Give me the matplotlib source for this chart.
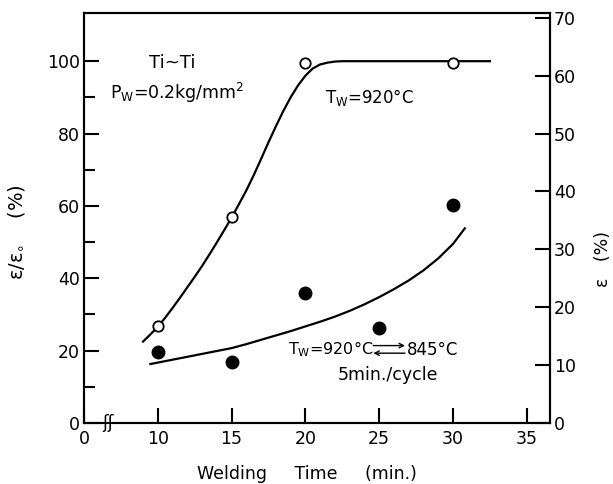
import matplotlib
matplotlib.use("Agg")
import matplotlib.pyplot as plt

plt.rcParams['font.family'] = ['DejaVu Sans']
plt.rcParams['mathtext.fontset'] = 'dejavusans'

# Data (left axis: eps/eps0 in %)
time_open = [10, 15, 20, 30]
ratio_open = [26.8, 57, 99.4, 99.4]

time_filled = [10, 15, 20, 25, 30]
ratio_filled = [19.7, 16.8, 35.8, 26.2, 60.2]

# Hand-drawn fitted curves
curve1_x = [9.0, 9.5, 10.0, 10.5, 11.0, 11.5, 12.0, 12.5, 13.0, 13.5, 14.0, 14.5,
            15.0, 15.5, 16.0, 16.5, 17.0, 17.5, 18.0, 18.5, 19.0, 19.5, 20.0,
            20.5, 21.0, 21.5, 22.0, 22.5, 32.5]
curve1_y = [22.5, 24.5, 26.6, 29.1, 31.8, 34.6, 37.5, 40.4, 43.4, 46.6, 49.9, 53.3,
            56.8, 60.5, 64.3, 68.5, 73.0, 77.6, 82.0, 86.2, 90.0, 93.3, 96.0,
            98.0, 99.1, 99.6, 99.9, 100, 100]

curve2_x = [9.5, 10, 11, 12, 13, 14, 15, 16, 17, 18, 19, 20, 21, 22, 23, 24, 25,
            26, 27, 28, 29, 30, 30.8]
curve2_y = [16.3, 16.7, 17.5, 18.3, 19.1, 19.9, 20.7, 21.8, 23.0, 24.2, 25.4, 26.7,
            28.0, 29.4, 31.0, 32.8, 34.8, 37.0, 39.4, 42.2, 45.5, 49.5, 53.8]

xticks = [5, 10, 15, 20, 25, 30, 35]
xticklabels = ["0", "10", "15", "20", "25", "30", "35"]
yticks_left = [0, 20, 40, 60, 80, 100]
yticks_left_minor = [10, 30, 50, 70, 90]
yticks_right = [0, 10, 20, 30, 40, 50, 60, 70]

fig = plt.figure(figsize=(6.13, 4.84), dpi=100)
ax = fig.add_axes([0.137, 0.126, 0.760, 0.847])

ax.plot(curve1_x, curve1_y, color='black', lw=1.6, zorder=2, solid_joinstyle='round')
ax.plot(curve2_x, curve2_y, color='black', lw=1.6, zorder=2, solid_joinstyle='round')
ax.plot(time_open, ratio_open, 'o', ms=7.5, mfc='white', mec='black', mew=1.3, zorder=3)
ax.plot(time_filled, ratio_filled, 'o', ms=9, mfc='black', mec='black', zorder=3)

ax.set_xlim(5, 36.56)
ax.set_ylim(0, 113.3)
ax.set_xticks(xticks)
ax.set_xticklabels(xticklabels)
ax.set_yticks(yticks_left)
ax.set_yticks(yticks_left_minor, minor=True)

for s in ax.spines.values():
    s.set_linewidth(1.5)

ax.tick_params(axis='both', which='major', direction='in', length=11, width=1.5,
               labelsize=12.5, pad=3)
ax.tick_params(axis='y', which='minor', direction='in', length=8, width=1.5)
ax.tick_params(axis='x', which='major', pad=5)

ax.set_xlabel("Welding     Time     (min.)", fontsize=12.5)
ax.xaxis.set_label_coords(0.479, -0.102)
ax.set_ylabel(r"ε/ε$_{\circ}$    (%)", fontsize=14)
ax.yaxis.set_label_coords(-0.122, 0.466)

ax2 = ax.twinx()
ax2.set_ylim(0, 113.3 / 1.6)
ax2.set_yticks(yticks_right)
ax2.tick_params(axis='y', direction='in', length=11, width=1.5, labelsize=12.5, pad=3)
ax2.set_ylabel("ε   (%)", fontsize=12.5, rotation=90)
ax2.yaxis.set_label_coords(1.094, 0.40)
for s in ax2.spines.values():
    s.set_linewidth(1.5)

# axis break marker
ax.text(6.6, 0, "ʃʃ", fontsize=12, ha='center', va='center',
        bbox=dict(facecolor='white', edgecolor='none', pad=0.3), zorder=5, clip_on=False)

# annotations
ax.text(11.0, 99.4, "Ti~Ti", fontsize=13, ha='center', va='center')
ax.text(6.75, 91.2, r"P$_{\rm W}$=0.2kg/mm$^{2}$", fontsize=12.5, ha='left', va='center')
ax.text(21.3, 90, r"T$_{\rm W}$=920°C", fontsize=12, ha='left', va='center')
ax.text(18.8, 20.3, r"T$_{\rm W}$=920°C", fontsize=11.5, ha='left', va='center')
ax.annotate("", xy=(26.75, 21.4), xytext=(24.6, 21.4),
            arrowprops=dict(arrowstyle='->', lw=1.0, color='black', shrinkA=0, shrinkB=0,
                            mutation_scale=8))
ax.annotate("", xy=(24.6, 19.3), xytext=(26.75, 19.3),
            arrowprops=dict(arrowstyle='->', lw=1.0, color='black', shrinkA=0, shrinkB=0,
                            mutation_scale=8))
ax.text(26.9, 20.3, "845°C", fontsize=12, ha='left', va='center')
ax.text(25.6, 13.3, "5min./cycle", fontsize=12.5, ha='center', va='center')

fig.savefig("out.png", dpi=100)
